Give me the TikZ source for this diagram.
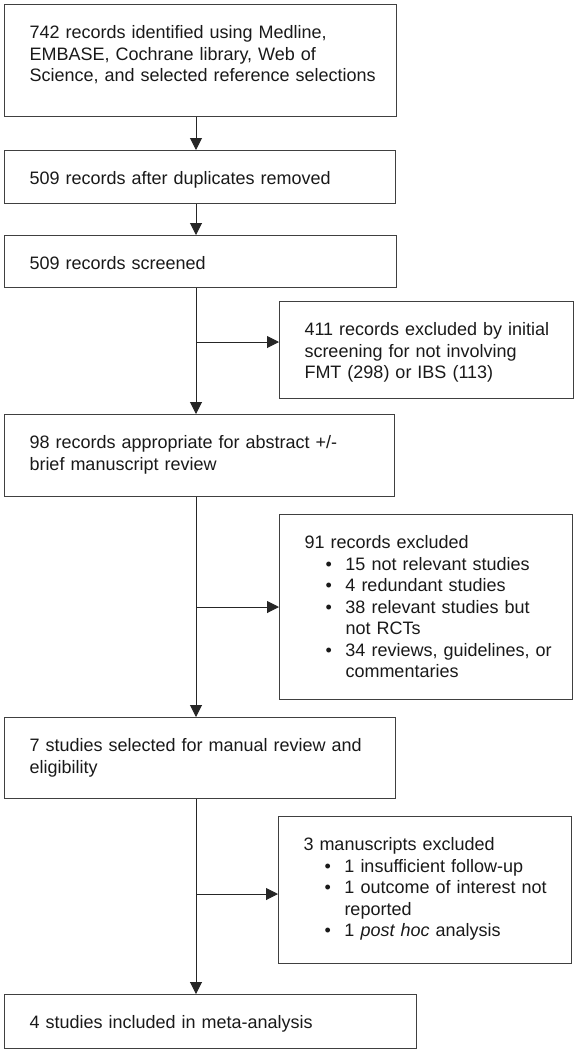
\documentclass[tikz,border=0pt]{standalone}
\usepackage{fontspec}
\setmainfont{Liberation Sans}
\usetikzlibrary{arrows.meta}
\newcommand{\tline}[1]{\mbox{#1}}
\newcommand{\bul}[1]{\mbox{\hspace*{21pt}\makebox[20pt][l]{•}#1}}
\newcommand{\cont}[1]{\mbox{\hspace*{41pt}#1}}
\begin{document}
\begin{tikzpicture}[x=1pt,y=-1pt,
  box/.style={draw=black!75, line width=1pt, inner xsep=25pt, inner ysep=0pt,
    text height=34pt, anchor=north west, align=left,
    font=\fontsize{18}{21.5}\selectfont, text=black!90},
  arr/.style={draw=black!85, line width=1pt, -{Triangle[length=12pt,width=12pt]}},
  link/.style={draw=black!85, line width=1pt}]
\useasboundingbox (0,0) rectangle (574,1050);
\node[box, text width=342pt, text depth=78pt] (b1) at (4,4)
  {\tline{742 records identified using Medline,}\\ \tline{EMBASE, Cochrane library, Web of}\\ \tline{Science, and selected reference selections}};
\node[box, text width=341pt, text depth=19pt] (b2) at (4,150)
  {\tline{509 records after duplicates removed}};
\node[box, text width=342pt, text depth=18pt] (b3) at (4,235)
  {\tline{509 records screened}};
\node[box, text width=243.5pt, text depth=63pt] (s1) at (279,301)
  {\tline{411 records excluded by initial}\\ \tline{screening for not involving}\\ \tline{FMT (298) or IBS (113)}};
\node[box, text width=340pt, text depth=48pt] (b4) at (4,414)
  {\tline{98 records appropriate for abstract +/-}\\ \tline{brief manuscript review}};
\node[box, text width=243pt, text depth=151pt] (s2) at (279,514)
  {\tline{91 records excluded}\\ \bul{15 not relevant studies}\\ \bul{4 redundant studies}\\ \bul{38 relevant studies but}\\ \cont{not RCTs}\\ \bul{34 reviews, guidelines, or}\\ \cont{commentaries}};
\node[box, text width=341pt, text depth=47pt] (b5) at (4,717)
  {\tline{7 studies selected for manual review and}\\ \tline{eligibility}};
\node[box, text width=243pt, text depth=113pt] (s3) at (278,816)
  {\tline{3 manuscripts excluded}\\ \bul{1 insufficient follow-up}\\ \bul{1 outcome of interest not}\\ \cont{reported}\\ \bul{1 \textit{post hoc} analysis}};
\node[box, text width=362pt, text depth=20pt] (b6) at (4,994)
  {\tline{4 studies included in meta-analysis}};
\coordinate (t) at (196,0);
\coordinate (a1) at (196,342);
\coordinate (a2) at (196,607);
\coordinate (a3) at (196,894);
\draw[arr] (b1.south -| t) -- (b2.north -| t);
\draw[arr] (b2.south -| t) -- (b3.north -| t);
\draw[arr] (b3.south -| t) -- (b4.north -| t);
\draw[arr] (b4.south -| t) -- (b5.north -| t);
\draw[arr] (b5.south -| t) -- (b6.north -| t);
\draw[arr] (a1) -- (a1 -| s1.west);
\draw[arr] (a2) -- (a2 -| s2.west);
\draw[arr] (a3) -- (a3 -| s3.west);
\end{tikzpicture}
\end{document}
